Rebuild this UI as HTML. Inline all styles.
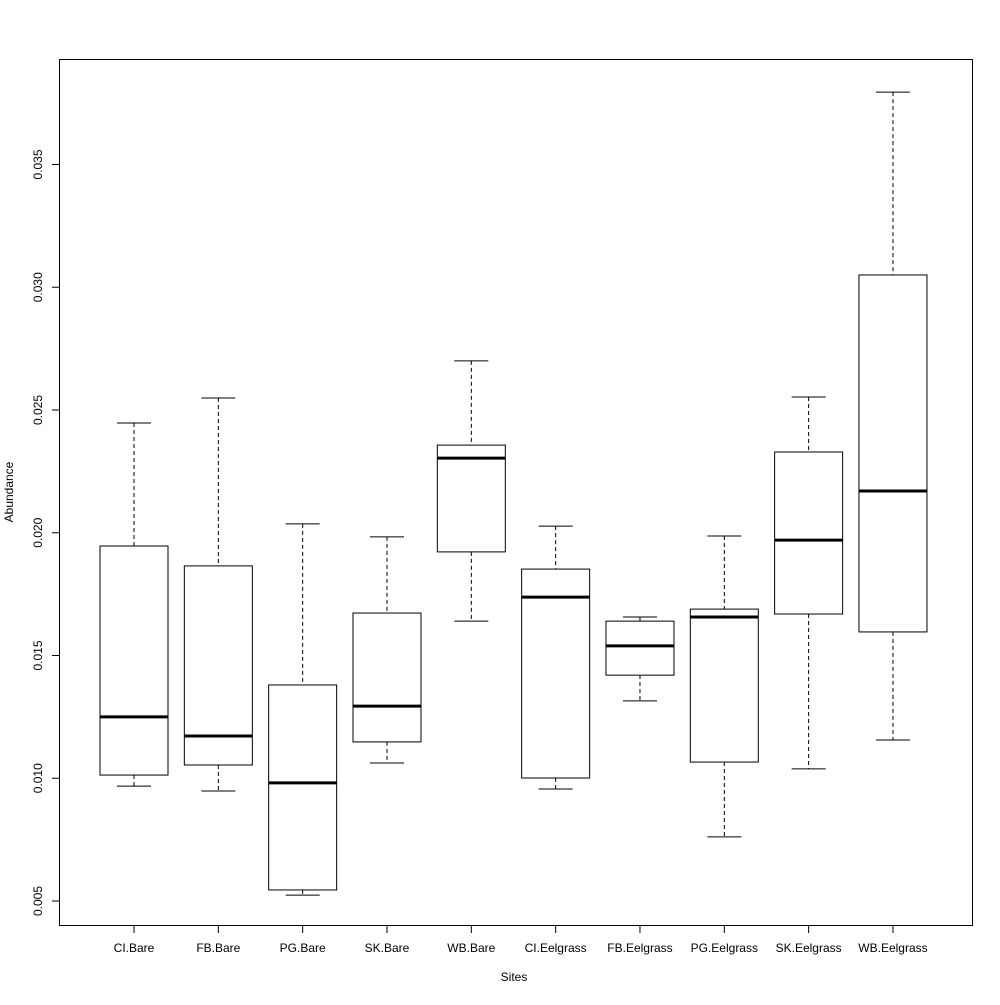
<!DOCTYPE html><html><head><meta charset="utf-8"><style>body{margin:0;background:#fff}svg text{font-family:"Liberation Sans",Arial,sans-serif;font-size:12px;fill:#000}</style></head><body>
<svg id="c" width="1000" height="1000" xmlns="http://www.w3.org/2000/svg"></svg>
<script>
const categories=["CI.Bare","FB.Bare","PG.Bare","SK.Bare","WB.Bare","CI.Eelgrass","FB.Eelgrass","PG.Eelgrass","SK.Eelgrass","WB.Eelgrass"];
const lowerWhisker=[0.00968,0.00948,0.00524,0.01062,0.0164,0.00956,0.01315,0.00761,0.01038,0.01156];
const q1=[0.01013,0.01054,0.00545,0.01148,0.01922,0.01001,0.0142,0.01066,0.01669,0.01596];
const medians=[0.0125,0.01172,0.00981,0.01294,0.02304,0.01738,0.01539,0.01657,0.0197,0.0217];
const q3=[0.01946,0.01865,0.0138,0.01673,0.02357,0.01852,0.0164,0.01689,0.02329,0.0305];
const upperWhisker=[0.02447,0.02549,0.02036,0.01983,0.027,0.02027,0.01657,0.01987,0.02553,0.03795];
const yTicks=[0.005,0.010,0.015,0.020,0.025,0.030,0.035];
const yTickLabels=["0.005","0.010","0.015","0.020","0.025","0.030","0.035"];
const svg=document.getElementById('c');const NS="http://www.w3.org/2000/svg";
const y=v=>901-(v-0.005)*24550;
const x=i=>134+i*84.33;
function el(t,a,p){const e=document.createElementNS(NS,t);for(const k in a)e.setAttribute(k,a[k]);(p||svg).appendChild(e);return e;}
const frame=el('rect',{x:59.5,y:59.5,width:913,height:866,fill:'none',stroke:'#000'});

yTicks.forEach((t,i)=>{const yy=y(t);
el('line',{x1:52,x2:59,y1:yy,y2:yy,stroke:'#000'});
const tx=el('text',{x:42,y:yy,'text-anchor':'middle',transform:`rotate(-90 42 ${yy})`});tx.textContent=yTickLabels[i];
});
categories.forEach((c,i)=>{const cx=x(i),w=34,g=el('g',{});

el('line',{x1:cx,x2:cx,y1:y(upperWhisker[i]),y2:y(q3[i]),stroke:'#000','stroke-dasharray':'4,3'},g);
el('line',{x1:cx,x2:cx,y1:y(q1[i]),y2:y(lowerWhisker[i]),stroke:'#000','stroke-dasharray':'4,3'},g);
el('line',{x1:cx-17,x2:cx+17,y1:y(upperWhisker[i]),y2:y(upperWhisker[i]),stroke:'#000'},g);
el('line',{x1:cx-17,x2:cx+17,y1:y(lowerWhisker[i]),y2:y(lowerWhisker[i]),stroke:'#000'},g);
el('rect',{x:cx-w,y:y(q3[i]),width:2*w,height:y(q1[i])-y(q3[i]),fill:'#fff',stroke:'#000'},g);
el('line',{x1:cx-w,x2:cx+w,y1:y(medians[i]),y2:y(medians[i]),stroke:'#000','stroke-width':3},g);
el('line',{x1:cx,x2:cx,y1:926,y2:933,stroke:'#000'});
const t=el('text',{x:cx,y:952,'text-anchor':'middle'});t.textContent=c;
});
const xt=el('text',{x:514,y:981,'text-anchor':'middle'});xt.textContent='Sites';

const yt=el('text',{x:13,y:492,'text-anchor':'middle',transform:'rotate(-90 13 492)'});yt.textContent='Abundance';

</script></body></html>
